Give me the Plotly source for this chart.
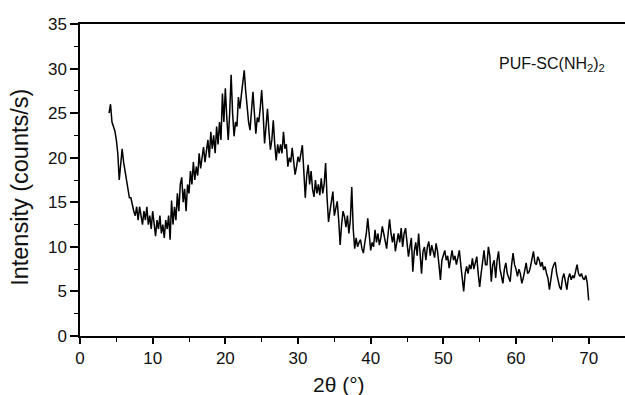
import plotly.graph_objects as go

# XRD pattern, 2-theta from 4.0 to 70.0 deg in 0.2 deg steps
start_angle = 4.0
step_angle = 0.2
intensity = [
    25.0, 26.0, 24.0, 23.5, 23.0,          # 4
    22.0, 20.5, 17.5, 19.0, 21.0,          # 5
    19.5, 18.5, 17.0, 16.5, 15.5,          # 6
    15.5, 14.5, 14.0, 13.5, 14.5,          # 7
    13.0, 14.5, 13.5, 12.5, 14.0,          # 8
    13.0, 14.5, 12.5, 13.5, 12.0,          # 9
    14.0, 12.5, 11.2, 13.0, 12.0,          # 10
    13.5, 11.5, 12.5, 11.0, 13.0,          # 11
    12.0, 13.5, 10.8, 15.2, 12.5,          # 12
    14.5, 13.0, 16.0, 14.0, 17.0,          # 13
    17.8, 15.0, 16.5, 14.0, 17.0,          # 14
    16.0, 18.5, 17.0, 19.5, 17.5,          # 15
    19.0, 18.0, 20.5, 18.8, 19.8,          # 16
    21.2, 19.5, 20.5, 22.0, 20.0,          # 17
    22.9, 21.0, 22.5, 20.5, 23.5,          # 18
    21.5, 24.0, 22.0, 27.2, 24.0,          # 19
    27.8, 24.5, 22.0, 25.0, 29.3,          # 20
    25.0, 22.4, 24.0, 23.5, 26.8,          # 21
    25.5, 27.0, 28.5, 29.8, 27.5,          # 22
    25.5, 24.0, 23.1, 25.5, 27.4,          # 23
    25.0, 22.7, 24.5, 24.0, 25.5,          # 24
    27.6, 25.0, 21.6, 23.5, 25.5,          # 25
    23.0, 20.9, 22.0, 24.2, 21.5,          # 26
    19.7, 21.5, 20.5, 21.5, 20.5,          # 27
    22.9, 21.0, 21.5, 19.0, 20.0,          # 28
    19.5, 21.1, 19.5, 18.1, 19.0,          # 29
    20.1, 19.5, 20.5, 21.4, 18.5,          # 30
    15.5, 18.0, 19.2, 17.0, 18.5,          # 31
    16.5, 15.6, 17.5, 16.0, 17.0,          # 32
    15.8, 17.7, 16.0, 17.0, 19.4,          # 33
    15.5, 12.8, 14.0, 15.0, 16.2,          # 34
    13.5, 14.5, 15.1, 13.0, 10.2,          # 35
    12.5, 14.0, 13.4, 12.2, 13.5,          # 36
    11.5, 13.0, 16.7, 12.0, 9.8,           # 37
    11.0, 10.0, 10.5, 10.8, 9.8,           # 38
    9.3, 10.5, 11.5, 13.2, 11.0,           # 39
    9.6, 10.5, 10.0, 11.9, 10.5,           # 40
    11.5, 10.2, 11.0, 12.3, 11.5,          # 41
    10.5, 9.8, 11.5, 13.1, 11.5,           # 42
    10.5, 11.5, 9.5, 10.5, 11.5,           # 43
    10.5, 12.1, 10.0, 11.5, 12.1,          # 44
    10.5, 8.9, 10.0, 11.0, 7.2,            # 45
    9.5, 10.5, 9.0, 11.5, 9.5,             # 46
    7.0, 9.5, 10.0, 8.5, 10.0,             # 47
    10.6, 9.0, 10.2, 9.5, 8.8,             # 48
    10.4, 9.5, 8.0, 6.3, 8.5,              # 49
    9.0, 9.6, 8.5, 9.0, 7.6,               # 50
    8.5, 9.6, 8.5, 9.0, 8.0,               # 51
    8.8, 9.6, 8.0, 6.0, 5.0,               # 52
    7.0, 7.8, 7.0, 8.0, 7.5,               # 53
    8.7, 7.5, 8.2, 8.9, 7.0,               # 54
    5.5, 7.0, 8.5, 9.6, 8.0,               # 55
    8.0, 10.0, 9.0, 6.1, 8.0,              # 56
    8.5, 6.5, 8.5, 9.5, 7.5,               # 57
    6.5, 5.9, 7.5, 8.2, 7.0,               # 58
    6.5, 6.1, 8.0, 9.3, 8.0,               # 59
    7.5, 6.7, 7.5, 7.0, 5.9,               # 60
    6.5, 7.5, 8.2, 7.0, 7.2,               # 61
    7.8, 8.5, 9.5, 8.2, 8.0,               # 62
    8.9, 8.5, 7.8, 8.3, 7.4,               # 63
    7.8, 7.0, 6.5, 5.2, 6.5,               # 64
    7.5, 8.0, 8.3, 7.0, 6.0,               # 65
    5.5, 5.2, 6.5, 7.0, 6.0,               # 66
    5.2, 6.5, 7.0, 6.3, 6.8,               # 67
    6.5, 7.5, 8.0, 7.0, 6.7,               # 68
    7.0, 6.5, 6.3, 6.8, 6.0,               # 69
    4.0,                                   # 70
]
two_theta = [round(start_angle + step_angle * i, 1) for i in range(len(intensity))]

x_ticks = [0, 10, 20, 30, 40, 50, 60, 70]
y_ticks = [0, 5, 10, 15, 20, 25, 30, 35]
sample_label = "PUF-SC(NH<sub>2</sub>)<sub>2</sub>"
x_title = "2θ (°)"
y_title = "Intensity (counts/s)"

font_family = "Liberation Sans, Arial, sans-serif"
txt = "#111111"

fig = go.Figure()
fig.add_trace(go.Scatter(
    x=two_theta, y=intensity, mode="lines",
    line=dict(color="black", width=1.5),
    showlegend=False,
))

fig.update_layout(
    width=625, height=395,
    margin=dict(l=80, r=0, t=24, b=59),
    paper_bgcolor="white", plot_bgcolor="white",
    font=dict(family=font_family, color=txt, size=17),
    annotations=[
        dict(text=sample_label, x=0.967, y=0.869, xref="paper", yref="paper",
             xanchor="right", yanchor="middle", showarrow=False,
             font=dict(family=font_family, size=16, color=txt)),
        dict(text=x_title, x=0.475, y=-0.154, xref="paper", yref="paper",
             xanchor="center", yanchor="middle", showarrow=False,
             font=dict(family=font_family, size=21, color=txt)),
        dict(text=y_title, x=-0.110, y=0.475, xref="paper", yref="paper",
             xanchor="center", yanchor="middle", showarrow=False, textangle=-90,
             font=dict(family=font_family, size=23.5, color=txt)),
    ],
)

fig.update_xaxes(
    range=[0, 75], tickvals=x_ticks,
    showgrid=False, zeroline=False,
    showline=True, linecolor="black", linewidth=1.5, mirror=True,
    ticks="outside", ticklen=6, tickwidth=1.5, tickcolor="black",
    minor=dict(dtick=5, ticks="outside", ticklen=4, tickwidth=1.2, tickcolor="black"),
    tickfont=dict(size=17),
)
fig.update_yaxes(
    range=[0, 35], tickvals=y_ticks,
    showgrid=False, zeroline=False,
    showline=True, linecolor="black", linewidth=1.5, mirror=False,
    ticks="outside", ticklen=8, tickwidth=1.5, tickcolor="black",
    minor=dict(dtick=2.5, ticks="outside", ticklen=4, tickwidth=1.2, tickcolor="black"),
    tickfont=dict(size=17),
)

fig.write_html("out.html")
